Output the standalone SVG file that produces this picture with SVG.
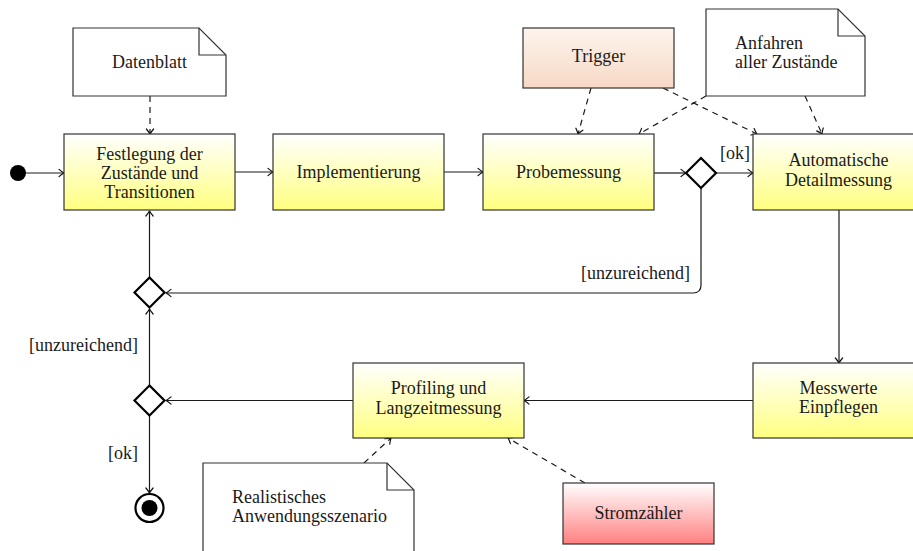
<svg xmlns="http://www.w3.org/2000/svg" width="913" height="551" viewBox="0 0 913 551" font-family="'Liberation Serif', 'DejaVu Serif', serif" font-size="18">
  <defs>
    <linearGradient id="gYellow" x1="0" y1="0" x2="0" y2="1">
      <stop offset="0" stop-color="#ffffff"/>
      <stop offset="1" stop-color="#ffff80"/>
    </linearGradient>
    <linearGradient id="gPeach" x1="0" y1="0" x2="0" y2="1">
      <stop offset="0" stop-color="#fdf4ee"/>
      <stop offset="1" stop-color="#f7d9c4"/>
    </linearGradient>
    <linearGradient id="gRed" x1="0" y1="0" x2="0" y2="1">
      <stop offset="0" stop-color="#ffffff"/>
      <stop offset="1" stop-color="#ff8080"/>
    </linearGradient>
    <marker id="arrow" markerUnits="userSpaceOnUse" viewBox="-7 -5 9 10" refX="0" refY="0" markerWidth="9" markerHeight="10" orient="auto" overflow="visible">
      <path d="M -5 -3.6 Q -1.6 -0.8 0 0 Q -1.6 0.8 -5 3.6" fill="none" stroke="#111" stroke-width="1.2" stroke-linecap="round" stroke-linejoin="round"/>
    </marker>
  </defs>
  <style>
    text { font-family: 'Liberation Serif', 'DejaVu Serif', serif; font-size: 18px; fill: #1a1a1a; }
    .c { text-anchor: middle; }
    .r { text-anchor: end; }
    .state { stroke: #333; stroke-width: 1.2; }
    .note { fill: #fff; stroke: #333; stroke-width: 1.2; }
    .fold { fill: none; stroke: #333; stroke-width: 1.2; }
    .dec { fill: #fff; stroke: #000; stroke-width: 2.2; }
    .flow { fill: none; stroke: #1a1a1a; stroke-width: 1.2; marker-end: url(#arrow); }
    .dep { fill: none; stroke: #1a1a1a; stroke-width: 1.2; stroke-dasharray: 6 5; marker-end: url(#arrow); }
  </style>

  <!-- connectors -->
  <g id="connectors">
    <path class="flow" d="M 26 173 H 64"/>
    <path class="flow" d="M 235 172 H 273"/>
    <path class="flow" d="M 444 172 H 483"/>
    <path class="flow" d="M 654 173 H 686"/>
    <path class="flow" d="M 716 173 H 753"/>
    <path class="flow" d="M 701 188 V 285 Q 701 293 693 293 H 166"/>
    <path class="flow" d="M 839 210 V 363"/>
    <path class="flow" d="M 753 400.5 H 524"/>
    <path class="flow" d="M 353 400.5 H 166"/>
    <path class="flow" d="M 149.5 385.5 V 309"/>
    <path class="flow" d="M 149.5 277.5 V 211"/>
    <path class="flow" d="M 149.5 415.5 V 493"/>

    <path class="dep" d="M 150 96 V 134"/>
    <path class="dep" d="M 591 88 L 578 134"/>
    <path class="dep" d="M 663 88 L 757 134"/>
    <path class="dep" d="M 706 96 L 639 134"/>
    <path class="dep" d="M 805 96 L 822 134"/>
    <path class="dep" d="M 364 463 L 391 438"/>
    <path class="dep" d="M 585 483 L 508 438"/>

    <text x="720" y="159">[ok]</text>
    <text class="r" x="690" y="279">[unzureichend]</text>
    <text class="r" x="138" y="351">[unzureichend]</text>
    <text class="r" x="138" y="459">[ok]</text>
  </g>

  <!-- start and end -->
  <g id="start">
    <circle cx="18" cy="173" r="8" fill="#000"/>
  </g>
  <g id="end">
    <circle cx="149.5" cy="508" r="14" fill="#fff" stroke="#000" stroke-width="2.2"/>
    <circle cx="149.5" cy="508" r="8" fill="#000"/>
  </g>

  <!-- decisions -->
  <g id="decision-probe">
    <path class="dec" d="M 701 158 L 716 173 L 701 188 L 686 173 Z"/>
  </g>
  <g id="decision-merge">
    <path class="dec" d="M 149.5 277.5 L 164.5 292.5 L 149.5 307.5 L 134.5 292.5 Z"/>
  </g>
  <g id="decision-profiling">
    <path class="dec" d="M 149.5 385.5 L 164.5 400.5 L 149.5 415.5 L 134.5 400.5 Z"/>
  </g>

  <!-- activities -->
  <g id="festlegung">
    <rect class="state" x="64" y="134" width="171" height="76" fill="url(#gYellow)"/>
    <text class="c" x="149.5" y="160">Festlegung der</text>
    <text class="c" x="149.5" y="179">Zustände und</text>
    <text class="c" x="149.5" y="198">Transitionen</text>
  </g>
  <g id="implementierung">
    <rect class="state" x="273" y="134" width="171" height="76" fill="url(#gYellow)"/>
    <text class="c" x="358.5" y="177.5">Implementierung</text>
  </g>
  <g id="probemessung">
    <rect class="state" x="483" y="134" width="171" height="76" fill="url(#gYellow)"/>
    <text class="c" x="568.5" y="177.5">Probemessung</text>
  </g>
  <g id="detailmessung">
    <rect class="state" x="753" y="134" width="171" height="76" fill="url(#gYellow)"/>
    <text class="c" x="838.5" y="166">Automatische</text>
    <text class="c" x="838.5" y="185.5">Detailmessung</text>
  </g>
  <g id="messwerte">
    <rect class="state" x="753" y="363" width="171" height="75" fill="url(#gYellow)"/>
    <text class="c" x="838.5" y="394">Messwerte</text>
    <text class="c" x="838.5" y="413">Einpflegen</text>
  </g>
  <g id="profiling">
    <rect class="state" x="353" y="363" width="171" height="75" fill="url(#gYellow)"/>
    <text class="c" x="438.5" y="394">Profiling und</text>
    <text class="c" x="438.5" y="413.5">Langzeitmessung</text>
  </g>

  <!-- objects -->
  <g id="trigger">
    <rect class="state" x="523" y="28" width="151" height="60" fill="url(#gPeach)"/>
    <text class="c" x="598.5" y="62">Trigger</text>
  </g>
  <g id="stromzaehler">
    <rect class="state" x="563" y="483" width="151" height="61" fill="url(#gRed)"/>
    <text class="c" x="638.5" y="519">Stromzähler</text>
  </g>

  <!-- notes -->
  <g id="note-datenblatt">
    <path class="note" d="M 73 28 H 199 L 226 55 V 96 H 73 Z"/>
    <path class="fold" d="M 199 28 V 55 H 226"/>
    <text class="c" x="149.5" y="68">Datenblatt</text>
  </g>
  <g id="note-anfahren">
    <path class="note" d="M 706 9 H 838 L 865 36 V 96 H 706 Z"/>
    <path class="fold" d="M 838 9 V 36 H 865"/>
    <text x="735" y="49">Anfahren</text>
    <text x="735" y="68">aller Zustände</text>
  </g>
  <g id="note-szenario">
    <path class="note" d="M 203 463 H 387 L 414 490 V 560 H 203 Z"/>
    <path class="fold" d="M 387 463 V 490 H 414"/>
    <text x="232" y="503">Realistisches</text>
    <text x="232" y="521.5">Anwendungsszenario</text>
  </g>
</svg>
